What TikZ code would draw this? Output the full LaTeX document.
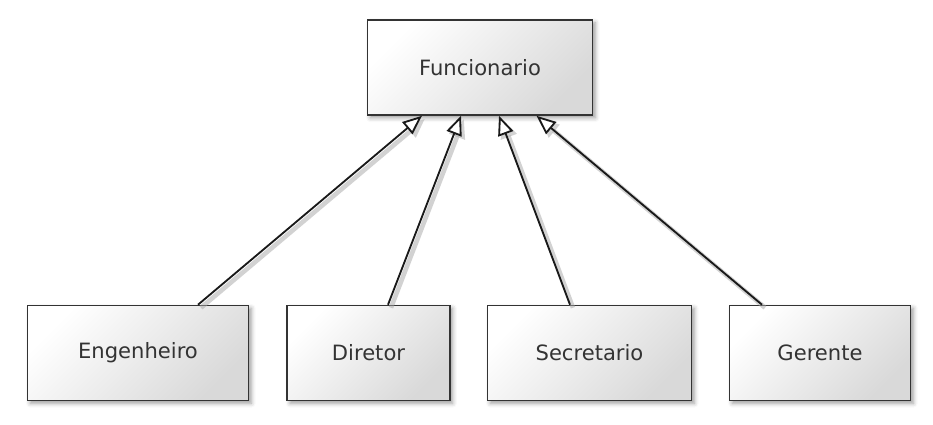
\documentclass[tikz,border=0pt]{standalone}
\usepackage{fontspec}
\setmainfont{DejaVu Sans}
\usetikzlibrary{arrows.meta,shadows.blur}
\tikzset{
  classbox/.style={draw=black!80, line width=0.9pt, top color=white,
    bottom color=black!15, shading angle=45,
    blur shadow={shadow xshift=1.6pt, shadow yshift=-1.6pt,
      shadow blur radius=2.5pt, shadow opacity=40},
    minimum height=1.9cm, inner sep=0pt, text=black!80,
    font=\fontsize{12}{14}\selectfont},
  inherits/.style={draw=black!90, line width=1.05pt,
    -{Triangle[fill=white, length=11pt, width=9pt]},
    preaction={draw=black!35, opacity=0.5, line width=2.6pt,
      transform canvas={shift={(1.7pt,-1.7pt)}}}}
}
\begin{document}
\begin{tikzpicture}[x=0.02cm, y=-0.02cm]
  \useasboundingbox (0,0) rectangle (933,424);
  \node [classbox, minimum width=4.5cm] (func) at (480,67.5) {Funcionario};
  \node [classbox, minimum width=4.42cm] (eng) at (138,353) {Engenheiro};
  \node [classbox, minimum width=3.25cm] (dir) at (368.5,353) {Diretor};
  \node [classbox, minimum width=4.08cm] (sec) at (589.5,353) {Secretario};
  \node [classbox, minimum width=3.62cm] (ger) at (820,353) {Gerente};
  \draw [inherits] ([xshift=1.2cm]eng.north) -- ([xshift=-1.16cm]func.south);
  \draw [inherits] ([xshift=0.39cm]dir.north) -- ([xshift=-0.38cm]func.south);
  \draw [inherits] ([xshift=-0.39cm]sec.north) -- ([xshift=0.38cm]func.south);
  \draw [inherits] ([xshift=-1.16cm]ger.north) -- ([xshift=1.13cm]func.south);
\end{tikzpicture}
\end{document}
